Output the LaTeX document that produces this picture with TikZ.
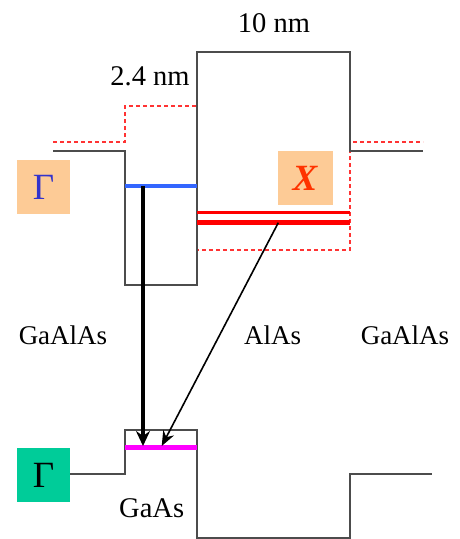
\documentclass[tikz,border=0pt]{standalone}
\usepackage{fontspec}
\setmainfont{Liberation Serif}
\usetikzlibrary{arrows.meta}
\definecolor{boxorange}{HTML}{FDCB96}
\definecolor{boxgreen}{HTML}{00CC99}
\definecolor{gblue}{HTML}{3333CC}
\definecolor{xred}{HTML}{FF3300}
\definecolor{lblue}{HTML}{3366FF}
\definecolor{dashred}{HTML}{FF3333}
\definecolor{pmagenta}{HTML}{FF00FF}
\definecolor{pred}{HTML}{FF0000}
\tikzset{
  band/.style={draw=black!70, line width=1.1pt},
  xband/.style={draw=dashred, line width=1.3pt, dash pattern=on 4pt off 3pt},
  lbl/.style={inner sep=0pt, font=\fontsize{27}{30}\selectfont},
  gbox/.style={minimum width=53pt, minimum height=53.5pt, inner sep=0pt, font=\fontsize{37}{40}\selectfont},
  lvl/.style={line width=#1},
}
\begin{document}
\begin{tikzpicture}[x=1pt,y=-1pt]
\useasboundingbox (0,0) rectangle (459,539);
% X-band (dashed)
\draw[xband] (53,142) -- (125,142) -- (125,106) -- (197,106) -- (197,250) -- (350,250) -- (350,142) -- (423,142);
% Gamma conduction band
\draw[band] (53,151) -- (125,151) -- (125,285) -- (197,285) -- (197,52) -- (350,52) -- (350,151) -- (423,151);
% valence band
\draw[band] (70,474) -- (125,474) -- (125,430) -- (197,430) -- (197,538) -- (350,538) -- (350,474) -- (432,474);
% levels
\draw[lblue, lvl=4pt] (125,186) -- (197,186);
\draw[pred, lvl=2.6pt] (197,212.7) -- (350,212.7);
\draw[pred, lvl=5pt] (197,222.7) -- (350,222.7);
\draw[pmagenta, lvl=5pt] (125,447.7) -- (197,447.7);
% label boxes
\node[gbox, fill=boxorange, text=gblue] (g1) at (43.5,187) {Γ};
\node[gbox, fill=boxorange, text=xred, minimum width=54.5pt] (xl) at (305.3,178) {\textbf{\textit{X}}};
\node[gbox, fill=boxgreen, text=black] (g2) at (43.5,475) {Γ};
% text
\node[lbl, font=\fontsize{28.5}{30}\selectfont] (w1) at (274,23) {10 nm};
\node[lbl, font=\fontsize{28.5}{30}\selectfont] (w2) at (150,76) {2.4 nm};
\node[lbl] (m1) at (63,335) {GaAlAs};
\node[lbl] (m2) at (272.7,335) {AlAs};
\node[lbl] (m3) at (405,335) {GaAlAs};
\node[lbl, font=\fontsize{28.5}{30}\selectfont] (m4) at (151.7,508.5) {GaAs};
% transitions
\coordinate (a1) at (143,186);
\coordinate (a2) at (143,446);
\coordinate (b1) at (278.3,222.7);
\coordinate (b2) at (161.7,446);
\draw[line width=4pt, -{Stealth[length=15pt,width=14pt,inset=5pt]}] (a1) -- (a2);
\draw[line width=1.6pt, -{Stealth[length=15pt,width=12pt,inset=5pt]}] (b1) -- (b2);
\end{tikzpicture}
\end{document}
